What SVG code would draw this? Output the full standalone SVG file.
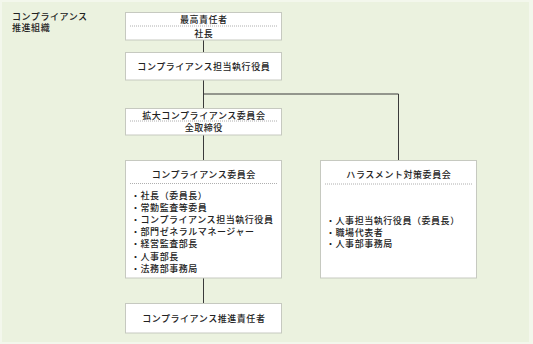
<svg xmlns="http://www.w3.org/2000/svg" width="533" height="344" viewBox="0 0 533 344">
<style>
.bx{fill:#ffffff;stroke:#c6c9c0;stroke-width:1}
.dv{stroke:#9a9a9a;stroke-width:0.8;stroke-dasharray:1 1}
.ln{stroke:#3a3a3a;stroke-width:1;fill:none}
text{font-family:"Noto Sans CJK JP","Noto Sans CJK SC",sans-serif;font-size:9px;font-weight:500;fill:#222;letter-spacing:0.55px}
.c{text-anchor:middle}
</style>
<rect x="0" y="0" width="533" height="344" fill="#f3f7ec"/>
<rect x="2" y="2" width="527" height="340" fill="#ebf2df"/>
<text x="12" y="19.5">コンプライアンス</text>
<text x="12" y="31">推進組織</text>
<g id="connectors">
<line class="ln" x1="203.5" y1="40" x2="203.5" y2="52"/>
<line class="ln" x1="203.5" y1="80" x2="203.5" y2="108"/>
<polyline class="ln" points="203.5,94 398.5,94 398.5,160"/>
<line class="ln" x1="203.5" y1="135" x2="203.5" y2="160"/>
<line class="ln" x1="203.5" y1="278" x2="203.5" y2="303"/>
</g>
<g id="n1">
<rect class="bx" x="125.5" y="12.5" width="156" height="27.5"/>
<line class="dv" x1="130" y1="26" x2="277" y2="26"/>
<text class="c" x="203.8" y="22.5">最高責任者</text>
<text class="c" x="203.8" y="36.5">社長</text>
</g>
<g id="n2">
<rect class="bx" x="125.5" y="52.5" width="156" height="27.5"/>
<text class="c" x="203.8" y="69.5">コンプライアンス担当執行役員</text>
</g>
<g id="n3">
<rect class="bx" x="125.5" y="108.5" width="156" height="26.5"/>
<line class="dv" x1="130" y1="121" x2="277" y2="121"/>
<text class="c" x="203.8" y="118.5">拡大コンプライアンス委員会</text>
<text class="c" x="203.8" y="131">全取締役</text>
</g>
<g id="n4">
<rect class="bx" x="125.5" y="160.5" width="156" height="117.5"/>
<line class="dv" x1="130" y1="183.5" x2="277" y2="183.5"/>
<text class="c" x="203.8" y="177.5">コンプライアンス委員会</text>
<text x="131" y="198.5">・社長（委員長）</text>
<text x="131" y="210.7">・常勤監査等委員</text>
<text x="131" y="222.9">・コンプライアンス担当執行役員</text>
<text x="131" y="235.1">・部門ゼネラルマネージャー</text>
<text x="131" y="247.3">・経営監査部長</text>
<text x="131" y="259.5">・人事部長</text>
<text x="131" y="271.7">・法務部事務局</text>
</g>
<g id="n5">
<rect class="bx" x="320.5" y="160.5" width="156" height="117.5"/>
<line class="dv" x1="325" y1="184" x2="472" y2="184"/>
<text class="c" x="398.8" y="177.5">ハラスメント対策委員会</text>
<text x="326" y="224">・人事担当執行役員（委員長）</text>
<text x="326" y="235.5">・職場代表者</text>
<text x="326" y="247">・人事部事務局</text>
</g>
<g id="n6">
<rect class="bx" x="125.5" y="303.5" width="156" height="29.5"/>
<text class="c" x="203.8" y="321.5">コンプライアンス推進責任者</text>
</g>
</svg>
